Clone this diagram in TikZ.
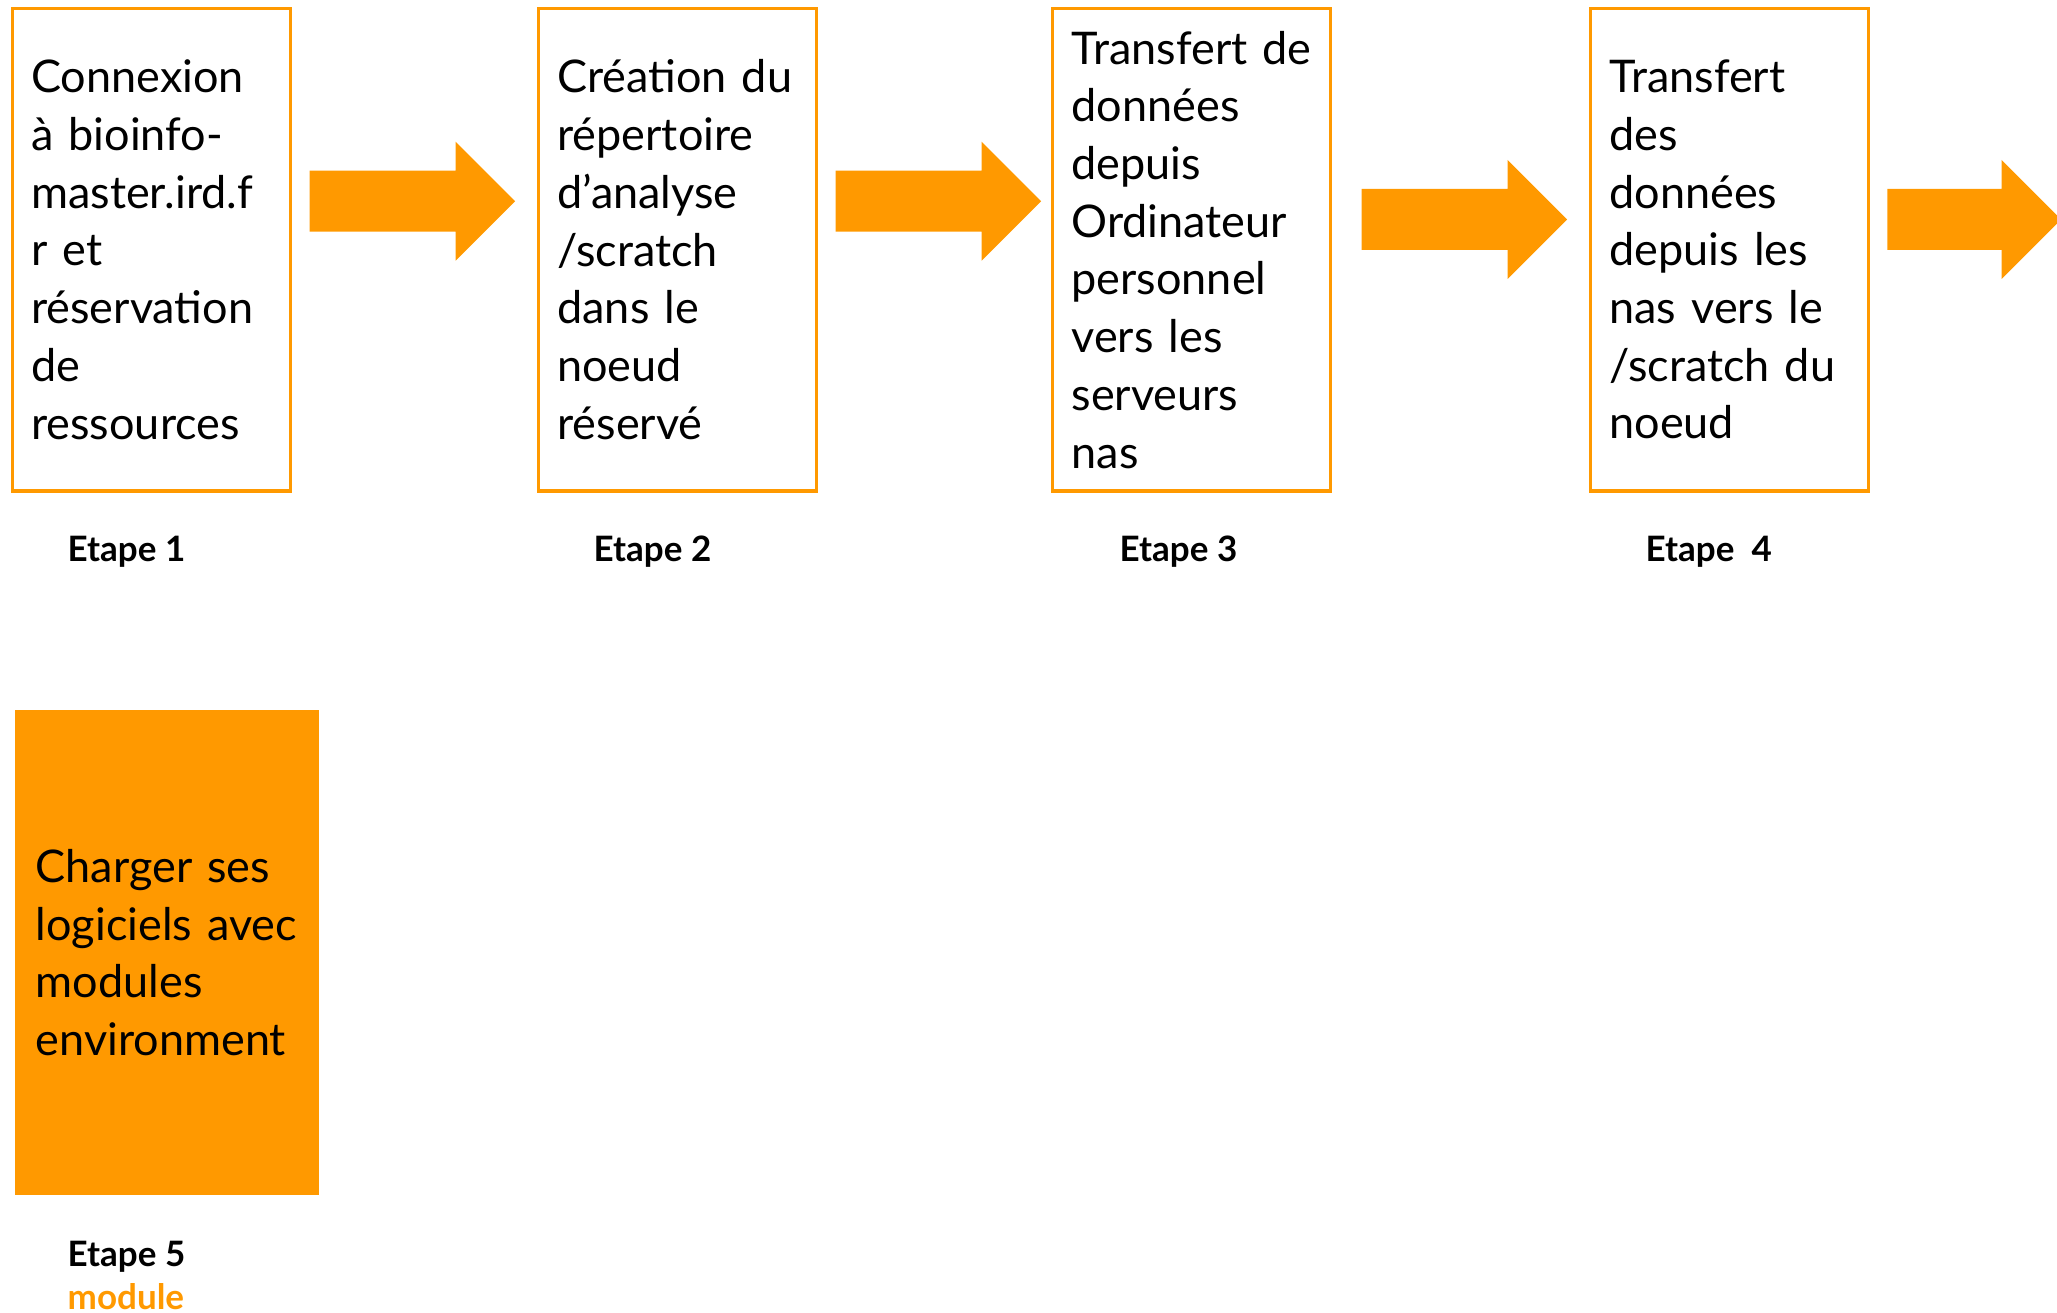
\documentclass[tikz,border=0pt]{standalone}
\usepackage{fontspec}
\setmainfont{Lato}
\newfontfamily\boxfamily{Lato}[WordSpace=0.6]
\definecolor{steporange}{RGB}{255,153,0}
\newcommand{\boxfont}{\boxfamily\fontsize{45}{57.7}\selectfont}
\tikzset{
  x=1pt, y=-1pt,
  stepbox/.style={draw=steporange, line width=3.5pt, rectangle, anchor=north west,
    inner xsep=19pt, inner ysep=0pt, align=left, text=black, font=\boxfont},
  filledbox/.style={fill=steporange, draw=none, rectangle, anchor=north west,
    inner xsep=21pt, inner ysep=0pt, align=left, text=black, font=\boxfont},
  steplabel/.style={anchor=base west, inner sep=0pt,
    font=\bfseries\fontsize{35}{43.5}\selectfont},
  fatarrow/.pic={
    \fill[steporange] (0,-30.5) -- (#1,-30.5) -- (#1,-59.5) -- ++(59.5,59.5)
      -- (#1,59.5) -- (#1,30.5) -- (0,30.5) -- cycle;
  }
}
\begin{document}
\begin{tikzpicture}
\useasboundingbox (0,0) rectangle (2057,1313);
\clip (0,0) rectangle (2057,1313);

% step boxes
\node[stepbox, minimum width=278pt, minimum height=482.7pt, text width=240pt] (s1) at (10.5,6.6)
  {Connexion\\à bioinfo-\\master.ird.f\\r et\\réservation\\de\\ressources};
\node[stepbox, minimum width=278pt, minimum height=482.7pt, text width=240pt] (s2) at (536.6,6.6)
  {Création du\\répertoire\\d’analyse\\/scratch\\dans le\\noeud\\réservé};
\node[stepbox, minimum width=278pt, minimum height=482.7pt, text width=240pt] (s3) at (1050.8,6.6)
  {Transfert de\\données\\depuis\\Ordinateur\\personnel\\vers les\\serveurs\\nas};
\node[stepbox, minimum width=278pt, minimum height=482.7pt, text width=240pt] (s4) at (1588.7,6.6)
  {Transfert\\des\\données\\depuis les\\nas vers le\\/scratch du\\noeud};
\node[filledbox, minimum width=304.4pt, minimum height=485.3pt, text width=262pt] (s5) at (14.4,709.7)
  {Charger ses\\logiciels avec\\modules\\environment};

% step labels
\node[steplabel] (l1) at (67.5,561) {Etape 1};
\node[steplabel] (l2) at (593.5,561) {Etape 2};
\node[steplabel] (l3) at (1119.5,561) {Etape 3};
\node[steplabel] (l4) at (1645.5,561) {Etape\ \ 4};
\node[steplabel] (l5) at (67.5,1266) {Etape 5};
\node[steplabel, text=steporange] (m5) at (67.5,1309.5) {module};

% block arrows between steps
\pic (a1) at (309.6,201.25) {fatarrow=146};
\pic (a2) at (835.7,201.25) {fatarrow=146};
\pic (a3) at (1361.7,219.5) {fatarrow=146};
\pic (a4) at (1887.3,219.5) {fatarrow=114.4};
\end{tikzpicture}
\end{document}
